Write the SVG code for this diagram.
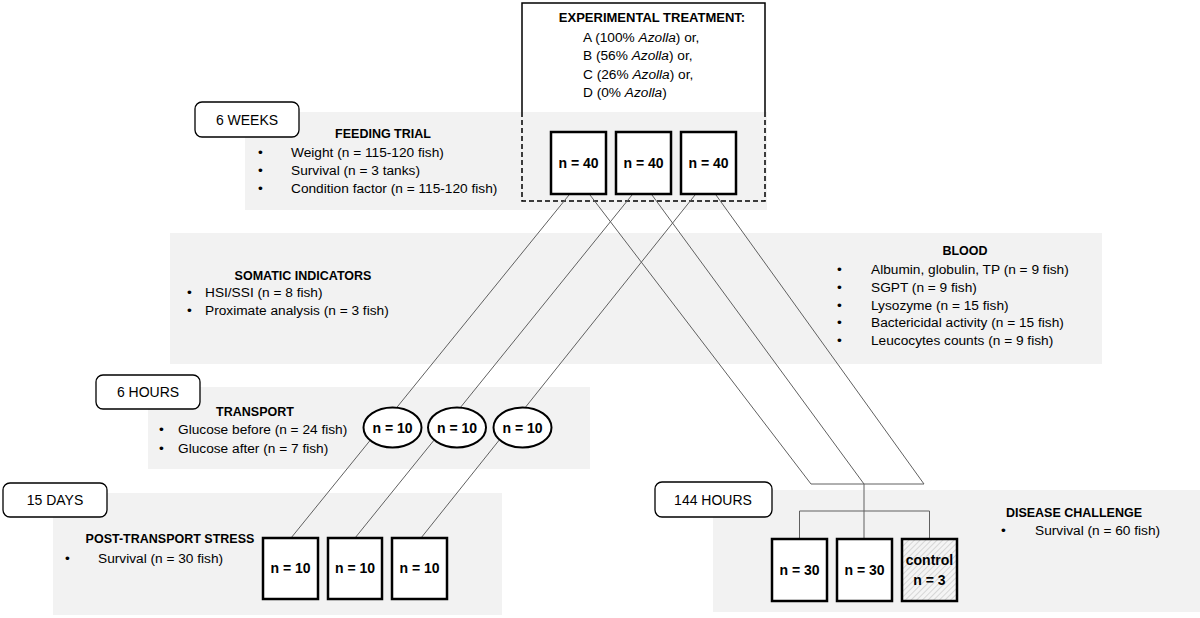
<svg xmlns="http://www.w3.org/2000/svg" width="1200" height="618" viewBox="0 0 1200 618">
<defs>
<style>
text{font-family:"Liberation Sans",Arial,sans-serif;fill:#000}
.band{fill:#f2f2f2}
.hdr{font-size:12.5px;font-weight:bold;text-anchor:middle}
.body{font-size:13.7px}
.tag{font-size:14px;text-anchor:middle}
.nlab{font-size:14px;font-weight:bold;text-anchor:middle}
.tagbox{fill:#fff;stroke:#000;stroke-width:1.3}
.box{fill:#fff;stroke:#000;stroke-width:2.5}
.con{stroke:#606060;stroke-width:1;fill:none}
</style>
<pattern id="hatch" width="4" height="4" patternUnits="userSpaceOnUse" patternTransform="rotate(45)">
<rect width="4" height="4" fill="#f4f4f4"/>
<line x1="0" y1="0" x2="0" y2="4" stroke="#b8b8b8" stroke-width="1"/>
</pattern>
</defs>

<g id="bands">
<rect class="band" x="245" y="112" width="522" height="98"/>
<rect class="band" x="170" y="233" width="932" height="131"/>
<rect class="band" x="148" y="387" width="442" height="82"/>
<rect class="band" x="53" y="493" width="449" height="122"/>
<rect class="band" x="713" y="490" width="487" height="122"/>
</g>

<g id="treatment">
<path d="M522,112 V3 H765 V112" fill="none" stroke="#000" stroke-width="1.5"/>
<path d="M522,112 V201 H765 V112" fill="none" stroke="#000" stroke-width="1.5" stroke-dasharray="5,3"/>
<text class="hdr" x="652" y="22" style="font-size:13px">EXPERIMENTAL TREATMENT:</text>
<text class="body" x="583" y="41.5">A (100% <tspan font-style="italic">Azolla</tspan>) or,</text>
<text class="body" x="583" y="60">B (56% <tspan font-style="italic">Azolla</tspan>) or,</text>
<text class="body" x="583" y="78.5">C (26% <tspan font-style="italic">Azolla</tspan>) or,</text>
<text class="body" x="583" y="97">D (0% <tspan font-style="italic">Azolla</tspan>)</text>
</g>

<g id="feeding-trial">
<rect class="tagbox" x="195" y="102" width="104" height="35" rx="7"/>
<text class="tag" x="247" y="125">6 WEEKS</text>
<text class="hdr" x="383" y="138">FEEDING TRIAL</text>
<text class="body" x="258" y="157">•</text><text class="body" x="291" y="157">Weight (n = 115-120 fish)</text>
<text class="body" x="258" y="175">•</text><text class="body" x="291" y="175">Survival (n = 3 tanks)</text>
<text class="body" x="258" y="192.5">•</text><text class="body" x="291" y="192.5">Condition factor (n = 115-120 fish)</text>
</g>

<g id="somatic">
<text class="hdr" x="303" y="280">SOMATIC INDICATORS</text>
<text class="body" x="187" y="297">•</text><text class="body" x="205" y="297">HSI/SSI (n = 8 fish)</text>
<text class="body" x="187" y="315">•</text><text class="body" x="205" y="315">Proximate analysis (n = 3 fish)</text>
</g>

<g id="blood">
<text class="hdr" x="965" y="255">BLOOD</text>
<text class="body" x="837" y="274">•</text><text class="body" x="871" y="274">Albumin, globulin, TP (n = 9 fish)</text>
<text class="body" x="837" y="292">•</text><text class="body" x="871" y="292">SGPT (n = 9 fish)</text>
<text class="body" x="837" y="309.5">•</text><text class="body" x="871" y="309.5">Lysozyme (n = 15 fish)</text>
<text class="body" x="837" y="327">•</text><text class="body" x="871" y="327">Bactericidal activity (n = 15 fish)</text>
<text class="body" x="837" y="345">•</text><text class="body" x="871" y="345">Leucocytes counts (n = 9 fish)</text>
</g>

<g id="transport">
<rect class="tagbox" x="96" y="375" width="104" height="34" rx="7"/>
<text class="tag" x="148" y="397">6 HOURS</text>
<text class="hdr" x="255" y="416">TRANSPORT</text>
<text class="body" x="159" y="434">•</text><text class="body" x="178" y="434">Glucose before (n = 24 fish)</text>
<text class="body" x="159" y="453">•</text><text class="body" x="178" y="453">Glucose after (n = 7 fish)</text>
</g>

<g id="post-transport">
<rect class="tagbox" x="3" y="483" width="104" height="34" rx="7"/>
<text class="tag" x="55" y="505">15 DAYS</text>
<text class="hdr" x="170" y="543">POST-TRANSPORT STRESS</text>
<text class="body" x="65" y="563">•</text><text class="body" x="98" y="563">Survival (n = 30 fish)</text>
</g>

<g id="disease-challenge">
<rect class="tagbox" x="655" y="482" width="117" height="35" rx="7"/>
<text class="tag" x="713" y="505">144 HOURS</text>
<text class="hdr" x="1074" y="517">DISEASE CHALLENGE</text>
<text class="body" x="1001" y="535">•</text><text class="body" x="1035" y="535">Survival (n = 60 fish)</text>
</g>

<g id="connectors">
<line class="con" x1="569" y1="195" x2="291" y2="538"/>
<line class="con" x1="632" y1="195" x2="355" y2="538"/>
<line class="con" x1="695" y1="195" x2="421" y2="538"/>
<line class="con" x1="590" y1="195" x2="811" y2="484"/>
<line class="con" x1="652" y1="195" x2="864" y2="484"/>
<line class="con" x1="716" y1="195" x2="924" y2="484"/>
<line class="con" x1="811" y1="484" x2="924" y2="484"/>
<line class="con" x1="864" y1="484" x2="864" y2="539"/>
<path class="con" d="M799.5,539 V511 H929.5 V539"/>
</g>

<g id="tank-40-1"><rect class="box" x="551" y="132" width="55" height="62"/><text class="nlab" x="578.5" y="168">n = 40</text></g>
<g id="tank-40-2"><rect class="box" x="616" y="132" width="55" height="62"/><text class="nlab" x="643.5" y="168">n = 40</text></g>
<g id="tank-40-3"><rect class="box" x="681" y="132" width="55" height="62"/><text class="nlab" x="708.5" y="168">n = 40</text></g>

<g id="transport-1"><ellipse cx="392.5" cy="427.5" rx="29" ry="20" fill="#fff" stroke="#000" stroke-width="2"/><text class="nlab" x="392.5" y="432.5">n = 10</text></g>
<g id="transport-2"><ellipse cx="457" cy="427.5" rx="29" ry="20" fill="#fff" stroke="#000" stroke-width="2"/><text class="nlab" x="457" y="432.5">n = 10</text></g>
<g id="transport-3"><ellipse cx="522.5" cy="427.5" rx="29" ry="20" fill="#fff" stroke="#000" stroke-width="2"/><text class="nlab" x="522.5" y="432.5">n = 10</text></g>

<g id="post-1"><rect class="box" x="263" y="538" width="55" height="61"/><text class="nlab" x="290.5" y="573">n = 10</text></g>
<g id="post-2"><rect class="box" x="328" y="538" width="54" height="61"/><text class="nlab" x="355" y="573">n = 10</text></g>
<g id="post-3"><rect class="box" x="392" y="538" width="55" height="61"/><text class="nlab" x="419.5" y="573">n = 10</text></g>

<g id="challenge-1"><rect class="box" x="772" y="539" width="55" height="62"/><text class="nlab" x="799.5" y="575">n = 30</text></g>
<g id="challenge-2"><rect class="box" x="837" y="539" width="55" height="62"/><text class="nlab" x="864.5" y="575">n = 30</text></g>
<g id="control"><rect class="box" x="902" y="539" width="55" height="62" style="fill:url(#hatch)"/><text class="nlab" x="929.5" y="565">control</text><text class="nlab" x="929.5" y="585">n = 3</text></g>
</svg>
